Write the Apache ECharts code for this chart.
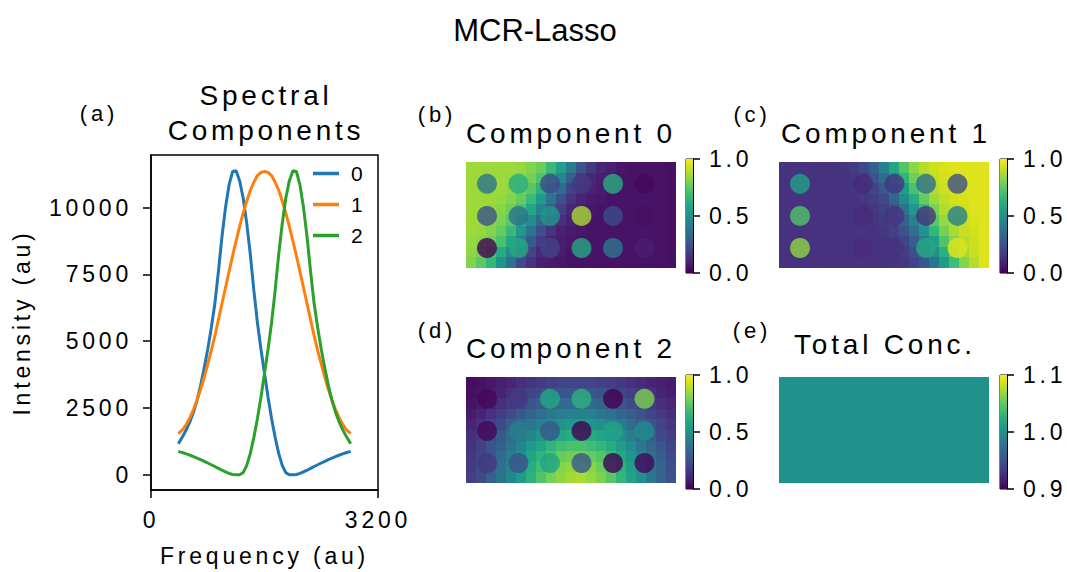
<!DOCTYPE html>
<html>
<head>
<meta charset="utf-8">
<title>MCR-Lasso</title>
<script src="https://cdn.jsdelivr.net/npm/echarts@6/dist/echarts.min.js"></script>
<style>
  html, body { margin: 0; padding: 0; background: #fff; }
  #chart { width: 1067px; height: 572px; }
  #chart svg text { letter-spacing: 3.8px; }
</style>
</head>
<body>
<div id="chart"></div>
<script>
// ---- spectral components (intensity vs frequency) ----
const freq = [385, 450, 500, 550, 600, 650, 700, 750, 800, 850, 900, 950, 1000, 1050, 1100, 1150,
  1200, 1250, 1300, 1350, 1400, 1450, 1500, 1550, 1600, 1650, 1700, 1750, 1800, 1850, 1900, 1950,
  2000, 2050, 2100, 2150, 2200, 2250, 2300, 2350, 2400, 2450, 2500, 2550, 2600, 2650, 2700, 2750, 2815];
const spectrum0 = [1160, 1450, 1700, 2000, 2350, 2800, 3350, 4000, 4700, 5500, 6400, 7600, 8900, 10000, 10850, 11350,
  11380, 11000, 10350, 9400, 8250, 6900, 5700, 4700, 3800, 2900, 2100, 1400, 800, 350, 80, 0,
  0, 10, 50, 110, 170, 240, 310, 375, 440, 505, 570, 625, 680, 730, 780, 825, 875];
const spectrum1 = [1540, 1700, 1900, 2150, 2450, 2800, 3200, 3650, 4150, 4650, 5200, 5800, 6400, 7000, 7600, 8200,
  8750, 9300, 9800, 10250, 10650, 10950, 11200, 11320, 11350, 11320, 11200, 10950, 10650, 10250, 9800, 9300,
  8750, 8200, 7600, 7000, 6400, 5800, 5200, 4650, 4150, 3650, 3200, 2800, 2450, 2150, 1900, 1700, 1540];
const spectrum2 = [875, 825, 780, 730, 680, 625, 570, 505, 440, 375, 310, 240, 170, 110, 50, 10,
  0, 0, 80, 350, 800, 1400, 2100, 2900, 3800, 4700, 5700, 6900, 8250, 9400, 10350, 11000,
  11380, 11350, 10850, 10000, 8900, 7600, 6400, 5500, 4700, 4000, 3350, 2800, 2350, 2000, 1700, 1450, 1160];
const spectrumNames = ['0', '1', '2'];
const freqTicks = [0, 3200];
const intensityTicks = [0, 2500, 5000, 7500, 10000];

// ---- concentration maps: smooth background (21 x 10 cells) ----
const comp0Bg = [
  [.85,.85,.85,.85,.85,.84,.81,.77,.67,.56,.41,.26,.16,.10,.08,.06,.05,.05,.05,.05,.04],
  [.85,.85,.85,.85,.84,.82,.79,.72,.60,.45,.30,.18,.11,.08,.06,.05,.05,.05,.05,.05,.04],
  [.85,.85,.85,.85,.83,.80,.74,.64,.50,.35,.21,.13,.09,.07,.05,.05,.05,.05,.05,.05,.04],
  [.85,.85,.85,.84,.81,.76,.67,.54,.39,.25,.15,.10,.07,.06,.05,.05,.05,.05,.05,.05,.04],
  [.85,.85,.84,.82,.78,.71,.59,.44,.29,.18,.11,.08,.06,.05,.05,.05,.05,.05,.05,.05,.04],
  [.85,.85,.83,.80,.74,.62,.48,.33,.20,.13,.09,.07,.05,.05,.05,.05,.05,.05,.05,.05,.04],
  [.85,.84,.81,.76,.67,.53,.38,.24,.15,.09,.07,.06,.05,.05,.05,.05,.05,.05,.05,.05,.04],
  [.84,.82,.78,.71,.59,.43,.28,.17,.10,.08,.06,.05,.05,.05,.05,.05,.05,.05,.05,.05,.04],
  [.83,.80,.73,.61,.47,.32,.20,.12,.08,.07,.05,.05,.05,.05,.05,.05,.05,.05,.05,.05,.04],
  [.81,.75,.66,.52,.37,.23,.14,.09,.07,.06,.05,.05,.05,.05,.05,.05,.05,.05,.05,.05,.04]
];
const comp1Bg = [
  [.14,.14,.14,.14,.14,.14,.15,.17,.22,.30,.43,.59,.73,.83,.89,.92,.94,.95,.95,.95,.95],
  [.14,.14,.14,.14,.14,.14,.14,.16,.19,.25,.35,.50,.65,.78,.86,.91,.93,.94,.95,.95,.95],
  [.14,.14,.14,.14,.14,.14,.14,.15,.17,.20,.28,.40,.56,.71,.82,.89,.92,.94,.95,.95,.95],
  [.14,.14,.14,.14,.14,.14,.14,.14,.16,.18,.23,.33,.47,.62,.76,.85,.90,.93,.94,.95,.95],
  [.14,.14,.14,.14,.14,.14,.14,.14,.14,.16,.19,.26,.38,.53,.68,.80,.88,.91,.93,.95,.95],
  [.14,.14,.14,.14,.14,.14,.14,.14,.14,.15,.17,.22,.31,.44,.59,.74,.84,.89,.92,.94,.95],
  [.14,.14,.14,.14,.14,.14,.14,.14,.14,.14,.16,.19,.25,.36,.51,.66,.79,.87,.91,.93,.95],
  [.14,.14,.14,.14,.14,.14,.14,.14,.14,.14,.15,.17,.21,.29,.41,.56,.72,.82,.89,.92,.95],
  [.14,.14,.14,.14,.14,.14,.14,.14,.14,.14,.14,.16,.18,.24,.33,.48,.63,.77,.86,.91,.95],
  [.14,.14,.14,.14,.14,.14,.14,.14,.14,.14,.14,.15,.16,.20,.27,.39,.54,.69,.81,.89,.95]
];
const comp2Bg = [
  [.03,.04,.06,.08,.10,.13,.15,.17,.19,.20,.20,.20,.20,.19,.18,.16,.14,.12,.10,.08,.07],
  [.04,.05,.07,.10,.13,.17,.20,.23,.25,.26,.27,.27,.26,.25,.23,.21,.18,.16,.13,.10,.08],
  [.05,.07,.10,.13,.17,.22,.26,.29,.32,.34,.35,.35,.34,.32,.30,.27,.23,.20,.17,.13,.11],
  [.07,.10,.14,.18,.23,.28,.32,.36,.40,.42,.43,.44,.43,.40,.37,.33,.29,.25,.21,.17,.13],
  [.10,.14,.18,.23,.29,.34,.39,.44,.48,.51,.53,.53,.52,.49,.45,.41,.35,.30,.25,.20,.16],
  [.13,.17,.22,.28,.34,.40,.46,.52,.57,.60,.62,.62,.61,.58,.53,.48,.42,.35,.29,.23,.18],
  [.15,.19,.25,.31,.38,.45,.53,.59,.65,.69,.71,.71,.69,.66,.61,.54,.47,.40,.33,.27,.21],
  [.16,.21,.27,.35,.42,.50,.58,.65,.71,.76,.78,.78,.76,.73,.67,.60,.52,.44,.36,.29,.23],
  [.17,.23,.29,.37,.45,.53,.62,.69,.76,.81,.83,.84,.82,.77,.71,.64,.56,.47,.39,.31,.24],
  [.18,.23,.30,.38,.46,.55,.64,.72,.79,.83,.86,.87,.84,.80,.74,.66,.57,.49,.40,.32,.25]
];
const totalBg = [[1.0]];

// ---- sample spots (image pixel coordinates, 70 x 35 image) ----
const spotX = [7, 17.5, 28, 38.5, 49, 59.5];
const spotY = [7.2, 17.8, 28.4];
const comp0Spots = [
  [0.38, 0.62, 0.22, 0.16, 0.63, 0.02],
  [0.25, 0.37, 0.52, 0.87, 0.23, 0.04],
  [0.00, 0.60, 0.20, 0.60, 0.40, 0.08]
];
const comp1Spots = [
  [0.57, 0.14, 0.12, 0.15, 0.37, 0.24],
  [0.72, 0.14, 0.12, 0.15, 0.14, 0.43],
  [0.83, 0.14, 0.12, 0.14, 0.60, 0.95]
];
const comp2Spots = [
  [0.02, 0.16, 0.60, 0.64, 0.00, 0.80],
  [0.02, 0.42, 0.27, 0.00, 0.58, 0.48],
  [0.16, 0.25, 0.58, 0.27, 0.00, 0.02]
];
const unitTicks = [0, 0.5, 1.0];
const totalTicks = [0.9, 1.0, 1.1];

// ---- styling ----
const FONT = "'Liberation Sans', Arial, Helvetica, sans-serif";
const BLACK = '#000';
const lineColors = ['#1f77b4', '#ff7f0e', '#2ca02c'];
const viridis = ['#440154','#48186a','#472d7b','#424086','#3b528b','#33638d','#2c728e','#26828e',
  '#21918c','#1fa088','#28ae80','#3fbc73','#5ec962','#84d44b','#addc30','#d8e219','#fde725'];

const grids = [], xAxes = [], yAxes = [], series = [], visualMaps = [];

// (a) spectral components
grids.push({ left: 151, top: 155, width: 227, height: 336, show: true, borderColor: BLACK, borderWidth: 1.5 });
xAxes.push({
  gridIndex: 0, type: 'value', min: 0, max: 3200,
  axisLine: { show: true, onZero: false, lineStyle: { color: BLACK, width: 1.5 } },
  axisTick: { show: true, length: 8, lineStyle: { color: BLACK, width: 1.5 }, customValues: freqTicks },
  axisLabel: { customValues: freqTicks, fontSize: 23, color: BLACK, margin: 18, formatter: (v) => String(v) },
  splitLine: { show: false },
  name: 'Frequency (au)', nameLocation: 'middle', nameGap: 54,
  nameTextStyle: { fontSize: 23, color: BLACK }
});
yAxes.push({
  gridIndex: 0, type: 'value', min: -570, max: 11970,
  axisLine: { show: true, onZero: false, lineStyle: { color: BLACK, width: 1.5 } },
  axisTick: { show: true, length: 8, lineStyle: { color: BLACK, width: 1.5 }, customValues: intensityTicks },
  axisLabel: { customValues: intensityTicks, fontSize: 23, color: BLACK, margin: 19, formatter: (v) => String(v) },
  splitLine: { show: false },
  name: 'Intensity (au)', nameLocation: 'middle', nameGap: 118,
  nameTextStyle: { fontSize: 23, color: BLACK }
});
[spectrum0, spectrum1, spectrum2].forEach((vals, k) => {
  series.push({
    name: spectrumNames[k], type: 'line', xAxisIndex: 0, yAxisIndex: 0,
    data: freq.map((f, i) => [f, vals[i]]),
    showSymbol: false, silent: true,
    lineStyle: { color: lineColors[k], width: 3 }, itemStyle: { color: lineColors[k] }
  });
});

// cells of a concentration map, snapped to whole pixels so neighbours meet cleanly
function renderCell(params, api) {
  const c = api.coord([api.value(0), api.value(1)]);
  const s = api.size([1, 1]);
  const x0 = Math.round(c[0] - s[0] / 2), x1 = Math.round(c[0] + s[0] / 2);
  const y0 = Math.round(c[1] - s[1] / 2), y1 = Math.round(c[1] + s[1] / 2);
  return { type: 'rect', shape: { x: x0, y: y0, width: x1 - x0, height: y1 - y0 },
           style: { fill: api.visual('color') } };
}

const gradientStops = viridis.map((c, i) => ({ offset: i / (viridis.length - 1), color: c }));

const panels = [
  { bg: comp0Bg, spots: comp0Spots, ticks: unitTicks, img: [466, 162], cb: [686, 159] },
  { bg: comp1Bg, spots: comp1Spots, ticks: unitTicks, img: [779, 162], cb: [1000, 159] },
  { bg: comp2Bg, spots: comp2Spots, ticks: unitTicks, img: [466, 377], cb: [686, 375] },
  { bg: totalBg, spots: null, ticks: totalTicks, img: [779, 377], cb: [1000, 375] }
];
const IMG_W = 210, IMG_H = 106, CB_W = 7, CB_H = 114;

panels.forEach((p) => {
  const rows = p.bg.length, cols = p.bg[0].length;
  const lo = p.ticks[0], hi = p.ticks[p.ticks.length - 1];
  const vmSeries = [];

  // background map
  let g = grids.length;
  grids.push({ left: p.img[0], top: p.img[1], width: IMG_W, height: IMG_H });
  xAxes.push({ gridIndex: g, type: 'category', data: [...Array(cols).keys()], show: false });
  yAxes.push({ gridIndex: g, type: 'category', data: [...Array(rows).keys()], inverse: true, show: false });
  const cellData = [];
  p.bg.forEach((row, j) => row.forEach((v, i) => cellData.push([i, j, v])));
  vmSeries.push(series.length);
  series.push({ type: 'custom', xAxisIndex: xAxes.length - 1, yAxisIndex: yAxes.length - 1,
    renderItem: renderCell, data: cellData, silent: true, z: 2 });

  // sample spots
  if (p.spots) {
    g = grids.length;
    grids.push({ left: p.img[0], top: p.img[1], width: IMG_W, height: IMG_H });
    xAxes.push({ gridIndex: g, type: 'value', min: 0, max: 70, show: false });
    yAxes.push({ gridIndex: g, type: 'value', min: 0, max: 35, inverse: true, show: false });
    const spotData = [];
    p.spots.forEach((row, r) => row.forEach((v, c) => spotData.push([spotX[c], spotY[r], v])));
    vmSeries.push(series.length);
    series.push({ type: 'scatter', xAxisIndex: xAxes.length - 1, yAxisIndex: yAxes.length - 1,
      data: spotData, symbol: 'circle', symbolSize: 20, silent: true, z: 3 });
  }

  visualMaps.push({ type: 'continuous', show: false, min: lo, max: hi, dimension: 2,
    seriesIndex: vmSeries, inRange: { color: viridis } });

  // colour bar
  g = grids.length;
  grids.push({ left: p.cb[0], top: p.cb[1], width: CB_W, height: CB_H, show: true,
    borderColor: BLACK, borderWidth: 1 });
  xAxes.push({ gridIndex: g, type: 'category', data: [0], show: false });
  yAxes.push({ gridIndex: g, type: 'value', min: lo, max: hi, position: 'right',
    axisLine: { show: true, lineStyle: { color: BLACK, width: 1 } },
    axisTick: { show: true, length: 7, lineStyle: { color: BLACK, width: 1.5 }, customValues: p.ticks },
    axisLabel: { customValues: p.ticks, fontSize: 23, color: BLACK, margin: 16,
      formatter: (v) => Number(v).toFixed(1) },
    splitLine: { show: false } });
  series.push({ type: 'custom', xAxisIndex: xAxes.length - 1, yAxisIndex: yAxes.length - 1,
    data: [[0, hi]], silent: true,
    renderItem: (params, api) => {
      const cs = params.coordSys;
      const yTop = api.coord([0, hi])[1], yBot = api.coord([0, lo])[1];
      return { type: 'rect', shape: { x: cs.x, y: yTop, width: cs.width, height: yBot - yTop },
        style: { fill: new echarts.graphic.LinearGradient(0, 1, 0, 0, gradientStops) } };
    } });
});

// legend entries for the spectra
const legends = spectrumNames.map((n, i) => ({
  data: [n], left: 313, top: 163 + 31 * i, orient: 'vertical', padding: 0,
  icon: 'rect', itemWidth: 26, itemHeight: 3.5, selectedMode: false,
  textStyle: { fontSize: 21, color: BLACK, fontFamily: FONT, padding: [0, 0, 0, 7] }
}));

// titles and panel tags
function label(text, x, y, size) {
  return { type: 'text', x: x, y: y, silent: true,
    style: { text: text, fill: BLACK, font: size + 'px ' + FONT,
      align: 'center', verticalAlign: 'middle', textAlign: 'center', textVerticalAlign: 'middle' } };
}
const texts = [
  label('MCR-Lasso', 535, 30, 31),
  label('Spectral', 266, 95, 28),
  label('Components', 266, 130, 28),
  label('Component 0', 571, 133, 28),
  label('Component 1', 886, 133, 28),
  label('Component 2', 571, 348, 28),
  label('Total Conc.', 885, 344, 28),
  label('(a)', 99, 113, 22),
  label('(b)', 437, 114, 22),
  label('(c)', 752, 114, 22),
  label('(d)', 437, 330, 22),
  label('(e)', 752, 330, 22)
];

const chart = echarts.init(document.getElementById('chart'), null, { renderer: 'svg' });
chart.setOption({
  animation: false,
  backgroundColor: '#fff',
  textStyle: { fontFamily: FONT, color: BLACK },
  grid: grids, xAxis: xAxes, yAxis: yAxes,
  visualMap: visualMaps, legend: legends,
  series: series, graphic: texts
});

// the main title is set without extra tracking
function plainTitle() {
  document.querySelectorAll('#chart svg text').forEach((t) => {
    if (t.textContent === 'MCR-Lasso') t.style.letterSpacing = '0px';
  });
}
plainTitle();
chart.on('finished', plainTitle);
</script>
</body>
</html>
